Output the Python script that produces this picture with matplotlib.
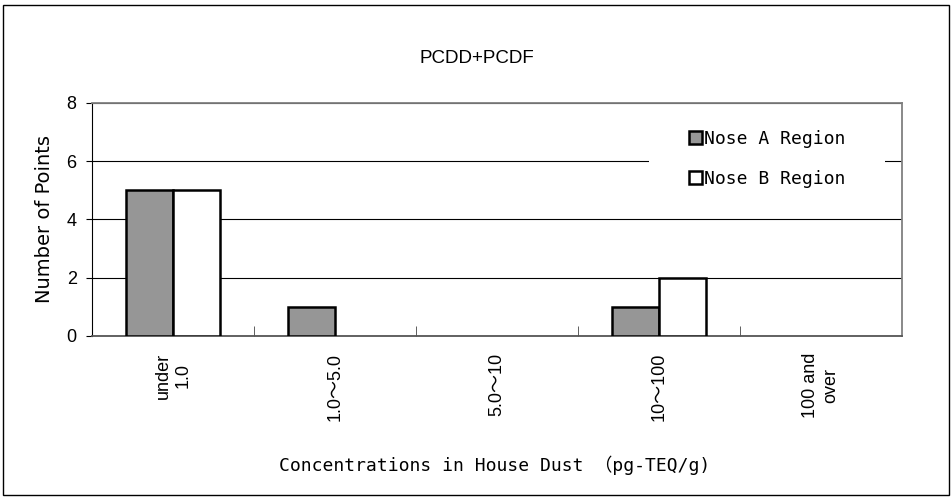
import numpy as np
import matplotlib.pyplot as plt
from matplotlib.patches import Rectangle

# Data
categories = ['under\n1.0', '1.0\uff5e5.0', '5.0\uff5e10', '10\uff5e100', '100 and\nover']
region_a = [5, 1, 0, 1, 0]
region_b = [5, 0, 0, 2, 0]

fig = plt.figure(figsize=(9.52, 4.97), dpi=100)
ax = fig.add_axes([0.0966, 0.324, 0.8505, 0.469])

# outer frame around the whole chart
fig.patches.append(Rectangle((0.003, 0.004), 0.994, 0.986, transform=fig.transFigure,
                             fill=False, edgecolor='black', linewidth=1.0))

x = np.arange(len(categories))
w = 0.29
# zero counts get no outline, as in the original
ax.bar(x - w / 2, region_a, w, color='#969696', edgecolor='black',
       linewidth=[1.8 if v else 0 for v in region_a], label='Nose A Region', zorder=3)
ax.bar(x + w / 2, region_b, w, color='white', edgecolor='black',
       linewidth=[1.8 if v else 0 for v in region_b], label='Nose B Region', zorder=3)

ax.set_xlim(-0.5, len(categories) - 0.5)
ax.set_ylim(0, 8)
ax.set_yticks([0, 2, 4, 6, 8])
ax.yaxis.grid(True, color='black', linewidth=0.8, zorder=0)
ax.set_axisbelow(True)

# white legend background hiding part of the gridline
ax.add_patch(Rectangle((0.688, 5.3), 0.291, 1.6, transform=ax.get_yaxis_transform(),
                       facecolor='white', edgecolor='none', zorder=1))

# category labels at centres, tick marks at the boundaries
ax.set_xticks(x)
ax.set_xticklabels(categories, rotation=90, fontsize=13,
                   family=['Liberation Sans', 'Noto Sans CJK JP'], linespacing=1.2)
ax.tick_params(axis='x', length=0, pad=12)
ax.set_xticks(np.arange(0.5, len(categories) - 0.5, 1), minor=True)
ax.tick_params(axis='x', which='minor', direction='in', length=7, color='#444444')
ax.tick_params(axis='y', direction='out', length=4, labelsize=13, color='black', pad=7)
for lab in ax.get_yticklabels():
    lab.set_family('Liberation Sans')

for s in ['top', 'right']:
    ax.spines[s].set_color('#808080')
    ax.spines[s].set_linewidth(1.3)
ax.spines['bottom'].set_color('#555555')
ax.spines['bottom'].set_linewidth(1.3)
ax.spines['left'].set_color('black')

ax.set_ylabel('Number of Points', fontsize=14, family='DejaVu Sans', labelpad=9)
fig.text(0.52, 0.064, 'Concentrations in House Dust \uff08pg-TEQ/g)', ha='center',
         va='center', fontsize=13, family=['DejaVu Sans Mono', 'Noto Sans CJK JP'])
fig.text(0.5005, 0.883, 'PCDD+PCDF', ha='center', va='center', fontsize=13.5,
         family='Liberation Sans')

leg = ax.legend(loc='upper left', bbox_to_anchor=(0.728, 0.915), frameon=False,
                prop={'family': 'DejaVu Sans Mono', 'size': 13},
                handlelength=0.75, handleheight=0.75, handletextpad=0.1,
                labelspacing=1.2, borderpad=0.4, borderaxespad=0)
for h in leg.legend_handles:
    h.set_linewidth(1.8)

fig.savefig('out.png', dpi=100)
